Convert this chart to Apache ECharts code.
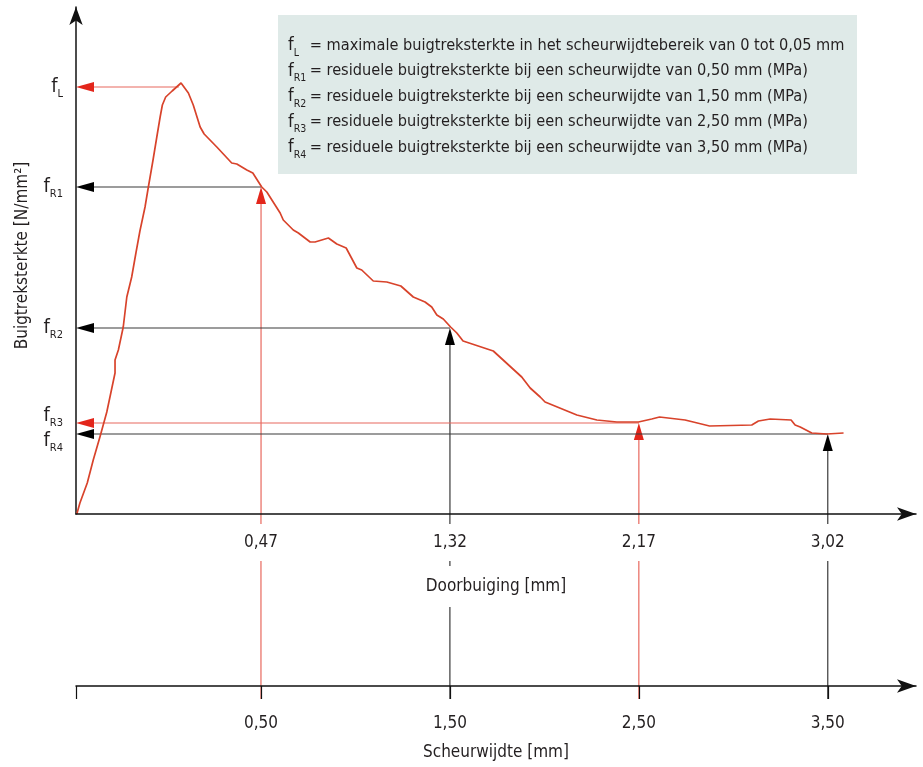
<!DOCTYPE html>
<html><head><meta charset="utf-8">
<script src="https://cdn.jsdelivr.net/npm/echarts@6/dist/echarts.min.js"></script>
<style>html,body{margin:0;padding:0;background:#fff}#c{width:923px;height:767px}</style>
</head><body><div id="c"></div>
<script>
// ---------- data ----------
const curveDeflection = [-0.359,-0.345,-0.312,-0.285,-0.255,-0.224,-0.187,-0.187,-0.172,-0.150,-0.134,-0.112,-0.093,-0.075,-0.052,-0.037,-0.016,0.001,0.016,0.026,0.041,0.070,0.110,0.143,0.165,0.196,0.214,0.271,0.338,0.361,0.406,0.433,0.473,0.496,0.556,0.570,0.615,0.638,0.691,0.713,0.773,0.811,0.853,0.901,0.923,0.975,1.036,1.099,1.155,1.208,1.238,1.261,1.290,1.323,1.351,1.379,1.515,1.643,1.681,1.726,1.748,1.891,1.981,2.071,2.168,2.228,2.263,2.378,2.488,2.678,2.708,2.761,2.855,2.873,2.896,2.948,3.016,3.091];
const curveStress = [0.00,0.11,0.31,0.54,0.77,1.02,1.41,1.54,1.64,1.87,2.17,2.37,2.61,2.83,3.07,3.27,3.54,3.77,3.97,4.09,4.17,4.23,4.31,4.21,4.09,3.87,3.80,3.67,3.51,3.50,3.44,3.41,3.27,3.22,3.01,2.94,2.84,2.81,2.72,2.72,2.76,2.70,2.66,2.46,2.44,2.33,2.32,2.28,2.17,2.12,2.07,1.99,1.95,1.87,1.81,1.73,1.63,1.37,1.26,1.17,1.12,0.99,0.94,0.92,0.92,0.95,0.97,0.94,0.88,0.89,0.93,0.95,0.94,0.89,0.87,0.81,0.80,0.81];
const deflectionTicks = [0.47, 1.32, 2.17, 3.02];
const crackTicks = [0.50, 1.50, 2.50, 3.50];
const fKeys = ['L', 'R1', 'R2', 'R3', 'R4'];
const fValues = [4.27, 3.27, 1.86, 0.91, 0.80];
const fDeflection = [0.10, 0.47, 1.32, 2.17, 3.02];
const legendTexts = [
  'maximale buigtreksterkte in het scheurwijdtebereik van 0 tot 0,05 mm',
  'residuele buigtreksterkte bij een scheurwijdte van 0,50 mm (MPa)',
  'residuele buigtreksterkte bij een scheurwijdte van 1,50 mm (MPa)',
  'residuele buigtreksterkte bij een scheurwijdte van 2,50 mm (MPa)',
  'residuele buigtreksterkte bij een scheurwijdte van 3,50 mm (MPa)'
];
const yTitle = 'Buigtreksterkte [N/mm²]';
const xTitle = 'Doorbuiging [mm]';
const x2Title = 'Scheurwijdte [mm]';

// ---------- styles / layout ----------
const FONT = "'Liberation Sans Narrow','DejaVu Sans Condensed','Roboto Condensed','Liberation Sans',sans-serif";
const TXT = '#231f20';
const CURVE = '#d8432b';
const ARROW_RED = '#e3261b';
const LINE_RED = '#e8685e';
const LINE_BLACK = '#3a3a3a';
const hRed = [true, false, false, true, false];   // horizontal guides
const vRed = [false, true, false, true, false];   // vertical guides
const labelShift = ['', '', '', 'up', 'down'];    // y-label nudges
const X_MIN = -0.3626, X_MAX = 3.417;
const C_MIN = -0.479, C_MAX = 3.967;
const fmt = v => v.toFixed(2).replace('.', ',');
// label order for the y axis: keep the two close labels (R3, R4) away from the
// first/last positions so ECharts' min/max overlap check does not drop one
const yLabelOrder = [3, 0, 1, 2, 4];

const chart = echarts.init(document.getElementById('c'), null, {renderer: 'canvas'});

function guideRender(params, api) {
  const i = api.value(2);
  const p = api.coord([api.value(0), api.value(1)]);
  const ax = api.coord([X_MIN, api.value(1)]);
  const base = api.coord([api.value(0), 0]);
  const ch = [
    {type: 'line', shape: {x1: p[0], y1: p[1], x2: ax[0] + 10, y2: ax[1]}, style: {stroke: hRed[i] ? LINE_RED : LINE_BLACK, lineWidth: 1.2}},
    {type: 'polygon', shape: {points: [[ax[0], ax[1]], [ax[0] + 18, ax[1] - 5], [ax[0] + 18, ax[1] + 5]]}, style: {fill: hRed[i] ? ARROW_RED : '#000'}}
  ];
  if (i > 0) {
    ch.push({type: 'line', shape: {x1: base[0], y1: base[1], x2: p[0], y2: p[1] + 10}, style: {stroke: vRed[i] ? LINE_RED : LINE_BLACK, lineWidth: 1.2}});
    ch.push({type: 'polygon', shape: {points: [[p[0], p[1]], [p[0] - 5, p[1] + 17], [p[0] + 5, p[1] + 17]]}, style: {fill: vRed[i] ? ARROW_RED : '#000'}});
  }
  return {type: 'group', children: ch};
}
function lowerRender(params, api) {
  const i = api.value(1);
  const top = api.coord([api.value(0), 1]);
  const bot = api.coord([api.value(0), 0]);
  return {type: 'line', shape: {x1: top[0], y1: top[1], x2: bot[0], y2: bot[1] + 13},
    style: {stroke: vRed[i] ? LINE_RED : LINE_BLACK, lineWidth: 1.2}};
}

const legendRich = {
  f: {fontFamily: FONT, fontSize: 18, color: TXT, lineHeight: 25.5},
  s: {fontFamily: FONT, fontSize: 10.5, color: TXT, lineHeight: 12, verticalAlign: 'bottom', width: 16},
  t: {fontFamily: FONT, fontSize: 16.2, color: TXT, lineHeight: 25.5}
};
const legendLines = fKeys.map((k, i) => `{f|f}{s|${k}}{t|= ${legendTexts[i]}}`);

const yRich = {
  f: {fontFamily: FONT, fontSize: 20, color: TXT, lineHeight: 26},
  s: {fontFamily: FONT, fontSize: 11, color: TXT, lineHeight: 12, verticalAlign: 'bottom'},
  g: {fontSize: 1, lineHeight: 14}
};

chart.setOption({
  animation: false,
  textStyle: {fontFamily: FONT, color: TXT},
  grid: [
    {left: 76, right: 7, top: 7, bottom: 253, outerBoundsMode: 'none'},
    {left: 76, right: 7, top: 514, bottom: 81, outerBoundsMode: 'none'}
  ],
  xAxis: [
    {type: 'value', gridIndex: 0, min: X_MIN, max: X_MAX, z: 5,
     axisLine: {onZero: false, symbol: ['none', 'arrow'], symbolSize: [10, 19], lineStyle: {color: '#111', width: 1.5}},
     axisTick: {show: false}, splitLine: {show: false},
     axisLabel: {customValues: deflectionTicks, formatter: fmt, fontFamily: FONT, fontSize: 17, color: TXT,
       margin: 10, backgroundColor: '#fff', padding: [10, 4], hideOverlap: false, showMinLabel: true, showMaxLabel: true},
     name: xTitle, nameLocation: 'middle', nameGap: 50,
     nameTextStyle: {fontFamily: FONT, fontSize: 17, color: TXT, backgroundColor: '#fff', padding: [12, 4]}},
    {type: 'value', gridIndex: 1, min: C_MIN, max: C_MAX, position: 'bottom', z: 5,
     axisLine: {onZero: false, symbol: ['none', 'arrow'], symbolSize: [10, 19], lineStyle: {color: '#111', width: 1.5}},
     axisTick: {customValues: [C_MIN].concat(crackTicks), length: 13, lineStyle: {color: '#111', width: 1.2}},
     splitLine: {show: false},
     axisLabel: {customValues: crackTicks, formatter: fmt, fontFamily: FONT, fontSize: 17, color: TXT, margin: 29,
       hideOverlap: false, showMinLabel: true, showMaxLabel: true},
     name: x2Title, nameLocation: 'middle', nameGap: 58,
     nameTextStyle: {fontFamily: FONT, fontSize: 17, color: TXT}}
  ],
  yAxis: [
    {type: 'value', gridIndex: 0, min: 0, max: 5.07,
     axisLine: {onZero: false, symbol: ['none', 'arrow'], symbolSize: [10, 18], lineStyle: {color: '#111', width: 1.5}},
     axisTick: {show: false}, splitLine: {show: false},
     axisLabel: {customValues: yLabelOrder.map(i => fValues[i]), margin: 13, hideOverlap: false,
       formatter: v => {
         const i = fValues.findIndex(x => Math.abs(x - v) < 1e-6);
         const core = `{f|f}{s|${fKeys[i]}}`;
         if (labelShift[i] === 'up') return core + '\n{g| }';
         if (labelShift[i] === 'down') return '{g| }\n' + core;
         return core;
       },
       rich: yRich},
     name: yTitle, nameLocation: 'middle', nameGap: 45,
     nameTextStyle: {fontFamily: FONT, fontSize: 17, color: TXT, padding: [0, 0, 0, 10]}},
    {type: 'value', gridIndex: 1, min: 0, max: 1, show: false}
  ],
  graphic: [{
    type: 'group', left: 278, top: 15,
    children: [
      {type: 'rect', shape: {x: 0, y: 0, width: 579, height: 159}, style: {fill: '#dfeae8'}},
      {type: 'text', x: 10, y: 18, style: {text: legendLines.join('\n'), rich: legendRich, fontFamily: FONT, fontSize: 16.2, fill: TXT, lineHeight: 25.5}}
    ]
  }],
  series: [
    {type: 'custom', xAxisIndex: 1, yAxisIndex: 1, z: 1, renderItem: lowerRender,
     data: crackTicks.map((c, i) => [c, i + 1]), encode: {x: 0, y: -1}},
    {type: 'custom', xAxisIndex: 0, yAxisIndex: 0, z: 2, renderItem: guideRender,
     data: fKeys.map((k, i) => [fDeflection[i], fValues[i], i]), encode: {x: 0, y: 1}},
    {type: 'line', xAxisIndex: 0, yAxisIndex: 0, z: 3, showSymbol: false, symbol: 'none',
     lineStyle: {color: CURVE, width: 1.7},
     data: curveDeflection.map((d, i) => [d, curveStress[i]])}
  ]
});
</script></body></html>
